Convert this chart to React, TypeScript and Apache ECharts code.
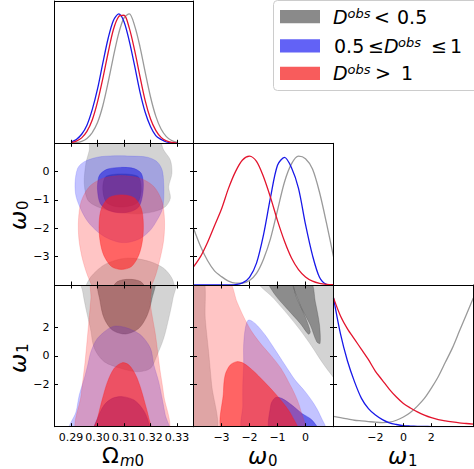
import React, { useEffect, useRef } from "react";
import * as echarts from "echarts";

// ---------- axes ----------
const omRange = [0.28375, 0.33625];
const w0Range = [-4, 1];
const w1Range = [-5, 5];
const densityRange = [0, 1.1];
const omTicks = [0.29, 0.3, 0.31, 0.32, 0.33];
const w0Ticks = [-3, -2, -1, 0];
const w1Ticks = [-2, 0, 2];

// ---------- 1D marginals (normalised to peak = 1) ----------
const omGrid = [0.29, 0.292, 0.294, 0.296, 0.298, 0.3, 0.302, 0.304, 0.306, 0.308, 0.31, 0.312, 0.314, 0.316, 0.318, 0.32, 0.322, 0.324, 0.326, 0.328, 0.33];
const omGray = [0.002, 0.005, 0.015, 0.037, 0.083, 0.16, 0.29, 0.47, 0.67, 0.85, 0.97, 1.0, 0.91, 0.75, 0.55, 0.36, 0.21, 0.11, 0.052, 0.022, 0.008];
const omBlue = [0.01, 0.03, 0.07, 0.14, 0.26, 0.42, 0.62, 0.81, 0.95, 1.0, 0.94, 0.79, 0.6, 0.4, 0.24, 0.13, 0.06, 0.03, 0.01, 0.003, 0.001];
const omRed = [0.006, 0.017, 0.042, 0.092, 0.18, 0.32, 0.5, 0.7, 0.88, 0.98, 0.99, 0.89, 0.72, 0.52, 0.33, 0.19, 0.1, 0.046, 0.019, 0.007, 0.002];

const w0Grid = [-4, -3.75, -3.5, -3.25, -3, -2.75, -2.5, -2.25, -2, -1.75, -1.5, -1.25, -1, -0.75, -0.5, -0.25, 0, 0.25, 0.5, 0.75, 1];
const w0Gray = [0.44, 0.3, 0.19, 0.11, 0.065, 0.03, 0.015, 0.015, 0.035, 0.09, 0.2, 0.36, 0.58, 0.8, 0.94, 1.0, 0.98, 0.9, 0.72, 0.48, 0.22];
const w0Blue = [0, 0, 0, 0, 0, 0.001, 0.003, 0.016, 0.06, 0.17, 0.39, 0.68, 0.93, 0.99, 0.91, 0.75, 0.47, 0.23, 0.06, 0.005, 0];
const w0Red = [0.14, 0.22, 0.33, 0.46, 0.59, 0.75, 0.88, 0.97, 1.0, 0.96, 0.84, 0.68, 0.5, 0.34, 0.21, 0.12, 0.063, 0.03, 0.013, 0.005, 0.002];

const w1Grid = [-5, -4.5, -4, -3.5, -3, -2.5, -2, -1.5, -1, -0.5, 0, 0.5, 1, 1.5, 2, 2.5, 3, 3.5, 4, 4.5, 5];
const w1Gray = [0.08, 0.07, 0.06, 0.05, 0.045, 0.04, 0.035, 0.032, 0.035, 0.05, 0.075, 0.11, 0.16, 0.22, 0.3, 0.39, 0.5, 0.61, 0.74, 0.87, 1.0];
const w1Blue = [1.0, 0.72, 0.51, 0.35, 0.22, 0.14, 0.09, 0.055, 0.03, 0.017, 0.008, 0.005, 0.003, 0.002, 0.001, 0, 0, 0, 0, 0, 0];
const w1Red = [1.0, 0.86, 0.76, 0.68, 0.6, 0.52, 0.43, 0.36, 0.29, 0.23, 0.18, 0.145, 0.115, 0.09, 0.07, 0.055, 0.045, 0.037, 0.03, 0.025, 0.02];

// ---------- 2D contours: (Omega_m0, omega_0) ----------
const omW0Gray2a = [[0.2975, 1.24], [0.3225, 1.24], [0.325, 0.76], [0.3275, 0.41], [0.3281, -0.06], [0.3269, -0.53], [0.3275, -0.94], [0.3256, -1.24], [0.3213, -1.41], [0.315, -1.49], [0.3063, -1.41], [0.3, -1.24], [0.2963, -1.0], [0.295, -0.41], [0.2956, 0.29], [0.2969, 0.76]];
const omW0Gray1a = [[0.3035, -0.15], [0.315, -0.15], [0.3165, -0.6], [0.315, -1.1], [0.3088, -1.25], [0.3035, -1.1], [0.302, -0.6]];
const omW0Gray2b = [[0.295, -4.5], [0.295, -4.18], [0.2975, -3.71], [0.3025, -3.29], [0.3088, -3.08], [0.3138, -3.06], [0.32, -3.18], [0.325, -3.41], [0.3281, -3.76], [0.3294, -4.18], [0.3294, -4.5]];
const omW0Gray1b = [[0.305, -4.3], [0.305, -4.2], [0.3075, -3.88], [0.3119, -3.8], [0.3163, -3.88], [0.3188, -4.2], [0.3188, -4.3]];
const omW0Blue2 = [[0.2925, 0.12], [0.295, 0.35], [0.3, 0.51], [0.3063, 0.56], [0.3125, 0.55], [0.3188, 0.51], [0.3225, 0.35], [0.3244, 0.06], [0.325, -0.41], [0.325, -1.0], [0.3244, -1.35], [0.3225, -1.71], [0.32, -2.06], [0.3163, -2.35], [0.3119, -2.49], [0.3081, -2.49], [0.3038, -2.35], [0.3, -2.12], [0.2963, -1.76], [0.2938, -1.35], [0.2919, -0.88], [0.2915, -0.41]];
const omW0Blue1 = [[0.3013, -0.06], [0.3038, 0.09], [0.3088, 0.15], [0.3138, 0.11], [0.3165, -0.06], [0.3173, -0.41], [0.3169, -0.88], [0.3156, -1.24], [0.3125, -1.41], [0.3081, -1.45], [0.3038, -1.35], [0.301, -1.12], [0.3, -0.65], [0.3003, -0.24]];
const omW0Red2 = [[0.309, -0.14], [0.3163, -0.24], [0.3213, -0.53], [0.3244, -1.06], [0.3253, -1.71], [0.325, -2.41], [0.3235, -3.12], [0.3213, -3.82], [0.3175, -4.41], [0.309, -4.59], [0.3006, -4.41], [0.2969, -3.82], [0.2944, -3.12], [0.293, -2.41], [0.2928, -1.71], [0.2938, -1.06], [0.2969, -0.53], [0.3019, -0.24]];
const omW0Red1 = [[0.309, -0.82], [0.3138, -0.92], [0.3165, -1.29], [0.3173, -1.82], [0.317, -2.41], [0.3156, -2.94], [0.3128, -3.35], [0.309, -3.45], [0.3053, -3.35], [0.3023, -2.94], [0.3009, -2.41], [0.3006, -1.82], [0.3015, -1.29], [0.3043, -0.92]];

// ---------- 2D contours: (Omega_m0, omega_1) ----------
const omW1Gray2 = [[0.2938, 5.47], [0.3294, 5.47], [0.3285, 4.06], [0.3269, 2.65], [0.325, 1.24], [0.3225, 0.06], [0.32, -0.88], [0.315, -1.12], [0.3088, -0.88], [0.3025, -0.41], [0.2988, 0.53], [0.2973, 1.94], [0.2956, 3.35], [0.2944, 4.53]];
const omW1Gray1 = [[0.3006, 5.24], [0.3213, 5.24], [0.3206, 4.06], [0.3188, 2.88], [0.3156, 1.94], [0.3106, 1.54], [0.3056, 1.82], [0.3025, 2.65], [0.301, 3.82]];
const omW1Blue2 = [[0.3056, 2.06], [0.3106, 2.0], [0.3163, 1.47], [0.32, 0.53], [0.3213, -0.65], [0.3231, -1.82], [0.3244, -3.0], [0.3256, -4.18], [0.3269, -5.35], [0.2894, -5.35], [0.2919, -3.94], [0.2931, -2.76], [0.295, -1.59], [0.2963, -0.65], [0.2975, 0.29], [0.3, 1.24]];
const omW1Blue1 = [[0.3094, -2.88], [0.3138, -3.12], [0.3169, -3.71], [0.3188, -4.41], [0.3194, -5.35], [0.2988, -5.35], [0.3, -4.41], [0.3025, -3.47], [0.3056, -3.0]];
const omW1Red2 = [[0.2981, 5.47], [0.3194, 5.47], [0.32, 3.59], [0.3219, 1.47], [0.3235, -0.88], [0.325, -2.76], [0.3263, -5.35], [0.2925, -5.35], [0.2938, -2.76], [0.2953, -0.41], [0.2966, 2.18], [0.2975, 4.06]];
const omW1Red1 = [[0.3094, -0.48], [0.3119, -0.65], [0.3144, -1.35], [0.3163, -2.29], [0.3181, -3.47], [0.3194, -4.41], [0.32, -5.35], [0.2988, -5.35], [0.3, -4.41], [0.3019, -3.0], [0.3038, -1.82], [0.3063, -0.88]];

// ---------- 2D contours: (omega_0, omega_1) ----------
const w0W1Gray2a = [[-4.12, 5.47], [-3.64, 5.47], [-3.58, 2.65], [-3.46, 0.29], [-3.35, -2.06], [-3.17, -5.35], [-4.12, -5.35]];
const w0W1Gray2b = [[-1.68, 5.24], [1.12, 5.24], [1.12, -1.71], [0.88, -1.22], [0.58, -0.41], [0.23, 0.65], [-0.19, 1.82], [-0.67, 3.0], [-1.14, 4.06]];
const w0W1Gray1a = [[-1.32, 5.24], [-0.55, 5.24], [-0.31, 4.06], [-0.01, 2.76], [0.17, 1.71], [0.11, 1.52], [-0.19, 2.29], [-0.67, 3.35], [-1.08, 4.29]];
const w0W1Gray1b = [[-0.43, 5.24], [0.19, 5.24], [0.35, 3.82], [0.5, 2.18], [0.52, 0.88], [0.4, 1.0], [0.17, 2.18], [-0.19, 3.59]];
const w0W1Blue2 = [[-2.04, 2.53], [-1.8, 2.29], [-1.44, 1.47], [-1.08, 0.41], [-0.73, -0.65], [-0.37, -1.71], [-0.01, -2.53], [0.29, -3.35], [0.52, -4.18], [0.7, -5.35], [-2.21, -5.35], [-2.24, -3.47], [-2.24, -2.06], [-2.21, -0.65], [-2.21, 0.76], [-2.15, 1.94]];
const w0W1Blue1 = [[-1.24, -5.35], [-1.24, -3.47], [-1.08, -2.95], [-0.85, -3.0], [-0.49, -3.47], [-0.13, -4.06], [0.23, -4.53], [0.46, -5.35]];
const w0W1Red2 = [[-4.12, 5.24], [-2.75, 5.24], [-2.45, 3.82], [-2.21, 2.76], [-1.92, 1.71], [-1.56, 0.76], [-1.2, -0.06], [-0.88, -0.88], [-0.61, -1.82], [-0.37, -2.76], [-0.19, -3.71], [-0.07, -5.35], [-4.12, -5.35]];
const w0W1Red1 = [[-2.93, -5.35], [-2.93, -2.53], [-2.87, -1.35], [-2.69, -0.65], [-2.45, -0.41], [-2.21, -0.53], [-1.86, -1.07], [-1.5, -1.78], [-1.14, -2.53], [-0.79, -3.35], [-0.49, -4.22], [-0.29, -5.35]];

// ---------- styling ----------
const FONT = "DejaVu Sans, sans-serif";
const STYLE: Record<string, { line: string; c2: string; c1: string; swatch: string }> = {
  gray: { line: "#9a9a9a", c2: "rgba(140,140,140,0.38)", c1: "rgba(70,70,70,0.5)", swatch: "#8a8a8a" },
  blue: { line: "#1818e8", c2: "rgba(40,40,255,0.28)", c1: "rgba(20,20,220,0.55)", swatch: "#6262f6" },
  red: { line: "#e3142d", c2: "rgba(255,40,40,0.27)", c1: "rgba(255,30,30,0.58)", swatch: "#f85c5c" },
};

const COLS = [
  { left: 54.5, width: 139 },
  { left: 193.5, width: 140 },
  { left: 333.5, width: 139.8 },
];
const ROWS = [
  { top: 1, height: 142.3 },
  { top: 143.3, height: 141.7 },
  { top: 285, height: 141.7 },
];

const minusFmt = (v: number) => (v < 0 ? "\u2212" + Math.abs(v) : String(v));
const AX: Record<string, { range: number[]; ticks?: number[]; fmt: (v: number) => string }> = {
  om: { range: omRange, ticks: omTicks, fmt: (v: number) => v.toFixed(2) },
  w0: { range: w0Range, ticks: w0Ticks, fmt: minusFmt },
  w1: { range: w1Range, ticks: w1Ticks, fmt: minusFmt },
  d: { range: densityRange, ticks: undefined, fmt: minusFmt },
};

const zip = (xs: number[], ys: number[]) => xs.map((x, i) => [x, ys[i]]);

type Panel = {
  row: number;
  col: number;
  x: string;
  y: string;
  lines?: [number[], number[], string][];
  contours?: [number[][], string, 1 | 2][];
  outsideRight?: boolean;
};

const panels: Panel[] = [
  { row: 0, col: 0, x: "om", y: "d", lines: [[omGrid, omGray, "gray"], [omGrid, omBlue, "blue"], [omGrid, omRed, "red"]] },
  {
    row: 1, col: 0, x: "om", y: "w0", outsideRight: true,
    contours: [
      [omW0Gray2a, "gray", 2], [omW0Gray2b, "gray", 2], [omW0Gray1a, "gray", 1], [omW0Gray1b, "gray", 1],
      [omW0Blue2, "blue", 2], [omW0Blue1, "blue", 1],
      [omW0Red2, "red", 2], [omW0Red1, "red", 1],
    ],
  },
  { row: 1, col: 1, x: "w0", y: "d", lines: [[w0Grid, w0Gray, "gray"], [w0Grid, w0Blue, "blue"], [w0Grid, w0Red, "red"]] },
  {
    row: 2, col: 0, x: "om", y: "w1",
    contours: [
      [omW1Gray2, "gray", 2], [omW1Gray1, "gray", 1],
      [omW1Blue2, "blue", 2], [omW1Blue1, "blue", 1],
      [omW1Red2, "red", 2], [omW1Red1, "red", 1],
    ],
  },
  {
    row: 2, col: 1, x: "w0", y: "w1", outsideRight: true,
    contours: [
      [w0W1Gray2a, "gray", 2], [w0W1Gray2b, "gray", 2], [w0W1Gray1a, "gray", 1], [w0W1Gray1b, "gray", 1],
      [w0W1Blue2, "blue", 2], [w0W1Blue1, "blue", 1],
      [w0W1Red2, "red", 2], [w0W1Red1, "red", 1],
    ],
  },
  { row: 2, col: 2, x: "w1", y: "d", lines: [[w1Grid, w1Gray, "gray"], [w1Grid, w1Blue, "blue"], [w1Grid, w1Red, "red"]] },
];

function axis(kind: string, gridIndex: number, position: string, o: { ticks?: boolean; labels?: boolean; line?: boolean; outside?: boolean }) {
  const s = AX[kind];
  return {
    type: "value",
    gridIndex,
    position,
    min: s.range[0],
    max: s.range[1],
    z: 10,
    axisLine: { show: o.line !== false, onZero: false, lineStyle: { color: "#000", width: 1 } },
    axisTick: {
      show: !!o.ticks && !!s.ticks,
      inside: !o.outside,
      length: 3.5,
      customValues: s.ticks,
      lineStyle: { color: "#000", width: 1 },
    },
    axisLabel: {
      show: !!o.labels,
      customValues: s.ticks,
      formatter: s.fmt,
      fontSize: 11,
      fontFamily: FONT,
      color: "#000",
      margin: 5,
    },
    splitLine: { show: false },
  };
}

function txt(text: string, x: number, y: number, size: number, extra: Record<string, any> = {}) {
  return {
    type: "text",
    x,
    y,
    silent: true,
    style: {
      text,
      fontSize: size,
      fontFamily: FONT,
      fill: "#000",
      align: "left",
      verticalAlign: "middle",
      textAlign: "left",
      textVerticalAlign: "middle",
      ...extra,
    },
  };
}

function buildOption() {
  const grid: any[] = [];
  const xAxis: any[] = [];
  const yAxis: any[] = [];
  const series: any[] = [];

  panels.forEach((p, gi) => {
    const c = COLS[p.col];
    const r = ROWS[p.row];
    grid.push({ left: c.left, top: r.top, width: c.width, height: r.height, show: false });
    const is2D = p.y !== "d";
    const xi = xAxis.length;
    xAxis.push(axis(p.x, gi, "bottom", { ticks: true, labels: p.row === 2 }));
    xAxis.push(axis(p.x, gi, "top", { ticks: is2D }));
    const yi = yAxis.length;
    yAxis.push(axis(p.y, gi, "left", { ticks: is2D, labels: is2D && p.col === 0 }));
    yAxis.push(axis(p.y, gi, "right", { ticks: is2D }));
    if (p.outsideRight) yAxis.push(axis(p.y, gi, "right", { ticks: true, line: false, outside: true }));

    (p.contours || []).forEach(([poly, key, level]) => {
      const fill = level === 2 ? STYLE[key].c2 : STYLE[key].c1;
      series.push({
        type: "custom",
        xAxisIndex: xi,
        yAxisIndex: yi,
        clip: true,
        silent: true,
        data: poly,
        renderItem: (params: any, api: any) => {
          if (params.dataIndex !== 0) return { type: "group", children: [] };
          return {
            type: "polygon",
            shape: { points: poly.map((pt) => api.coord(pt)), smooth: 0.3 },
            style: { fill, stroke: fill, lineWidth: 0.6 },
          };
        },
      });
    });
    (p.lines || []).forEach(([xs, ys, key]) => {
      series.push({
        type: "line",
        xAxisIndex: xi,
        yAxisIndex: yi,
        data: zip(xs, ys),
        showSymbol: false,
        smooth: 0.3,
        clip: true,
        silent: true,
        lineStyle: { color: STYLE[key].line, width: 1.3 },
      });
    });
  });

  const it = { fontStyle: "italic" };
  const graphic: any[] = [
    // axis titles
    txt("\u03A9", 102, 455, 22),
    txt("m", 120, 461, 15, it),
    txt("0", 134.5, 461, 15),
    txt("\u03C9", 248, 456, 23, it),
    txt("0", 268, 461, 15),
    txt("\u03C9", 388, 456, 23, it),
    txt("1", 408, 461, 15),
    { type: "group", x: 25, y: 215, rotation: Math.PI / 2, children: [txt("\u03C9", -15, -7, 23, it), txt("0", 5, -2, 15)] },
    { type: "group", x: 25, y: 358, rotation: Math.PI / 2, children: [txt("\u03C9", -15, -7, 23, it), txt("1", 5, -2, 15)] },
    // legend
    {
      type: "rect",
      shape: { x: 273.5, y: 0.5, width: 210, height: 90, r: 4 },
      style: { fill: "rgba(255,255,255,0.85)", stroke: "#cccccc", lineWidth: 1 },
    },
    { type: "rect", shape: { x: 280, y: 10, width: 40, height: 13.3 }, style: { fill: STYLE.gray.swatch } },
    { type: "rect", shape: { x: 280, y: 39.3, width: 40, height: 13.3 }, style: { fill: STYLE.blue.swatch } },
    { type: "rect", shape: { x: 280, y: 66.7, width: 40, height: 13.3 }, style: { fill: STYLE.red.swatch } },
    txt("D", 333, 17, 19, it),
    txt("obs", 347.5, 13, 13, it),
    txt("<", 374, 17, 19),
    txt("0.5", 397, 17, 19),
    txt("0.5", 334, 46, 19),
    txt("\u2264", 368, 46, 19),
    txt("D", 384, 46, 19, it),
    txt("obs", 398, 42, 13, it),
    txt("\u2264", 431, 46, 19),
    txt("1", 450, 46, 19),
    txt("D", 333, 73, 19, it),
    txt("obs", 347.5, 69, 13, it),
    txt(">", 375, 73, 19),
    txt("1", 401, 73, 19),
  ];

  return { animation: false, backgroundColor: "#fff", grid, xAxis, yAxis, series, graphic };
}

export default function App() {
  const ref = useRef<HTMLDivElement>(null);
  useEffect(() => {
    const chart = echarts.init(ref.current!, null, { renderer: "svg" });
    chart.setOption(buildOption() as any);
    return () => chart.dispose();
  }, []);
  return (
    <div
      ref={ref}
      style={{ position: "fixed", left: 0, top: 0, width: 474, height: 469, background: "#fff" }}
    />
  );
}
